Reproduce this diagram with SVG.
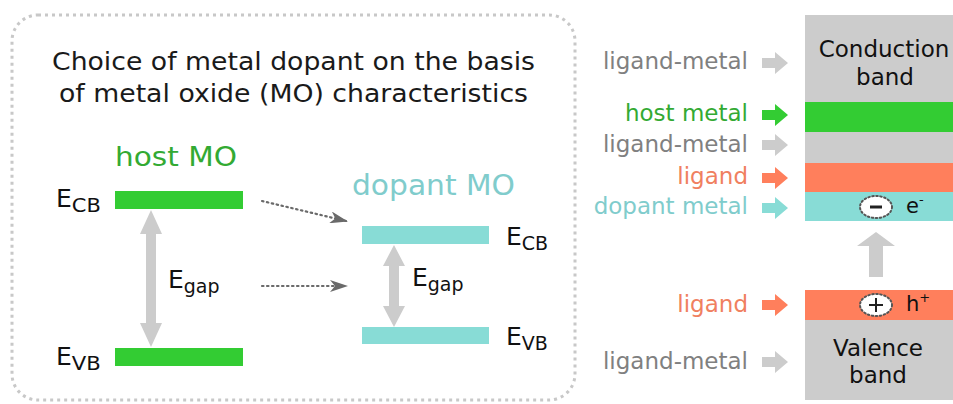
<svg xmlns="http://www.w3.org/2000/svg" width="953" height="404" viewBox="0 0 953 404">
<defs>
<marker id="dh" markerWidth="18" markerHeight="12" refX="16" refY="6" orient="auto" markerUnits="userSpaceOnUse"><path d="M0,0 L18,6 L0,12 L5,6 z" fill="#6a6a6a"/></marker>
</defs>
<style>
text{font-family:"DejaVu Sans","Liberation Sans",sans-serif;}
.t{font-size:25.5px;fill:#1a1a1a}
.lab{font-size:25px;fill:#111}
.sub{font-size:19px}
.r{font-size:23px;text-anchor:end}
.c{font-size:23px;fill:#111;text-anchor:middle}
.gray{fill:#cccccc}
.green{fill:#33cc33}
.cyan{fill:#88dcd6}
.salmon{fill:#ff7f5c}
.dot{fill:none;stroke:#6a6a6a;stroke-width:2.2;stroke-dasharray:1.5 3.5;stroke-linecap:round}
.hole{fill:#fff;stroke:#555;stroke-width:2;stroke-dasharray:1.5 2.5;stroke-linecap:round}
</style>
<rect x="12" y="15" width="563" height="385" rx="26" fill="none" stroke="#c8c8c8" stroke-width="3" stroke-dasharray="3 4"/>
<g id="title">
<text class="t" x="52" y="70" textLength="483" lengthAdjust="spacingAndGlyphs">Choice of metal dopant on the basis</text>
<text class="t" x="59" y="102" textLength="469" lengthAdjust="spacingAndGlyphs">of metal oxide (MO) characteristics</text>
</g>
<g id="host-mo">
<text x="115" y="166" font-size="27" fill="#33aa33" textLength="122" lengthAdjust="spacingAndGlyphs">host MO</text>
<rect class="green" x="115" y="191" width="128" height="18"/>
<rect class="green" x="115" y="348" width="128" height="18"/>
<text class="lab" x="56" y="207">E<tspan class="sub" dy="5" textLength="29" lengthAdjust="spacingAndGlyphs">CB</tspan></text>
<text class="lab" x="56" y="365">E<tspan class="sub" dy="5" textLength="29" lengthAdjust="spacingAndGlyphs">VB</tspan></text>
<polygon class="gray" points="151,210 162,234 156,234 156,323 162,323 151,347 140,323 146,323 146,234 140,234"/>
<text class="lab" x="168" y="288">E<tspan class="sub" dy="5">gap</tspan></text>
</g>
<g id="dopant-mo">
<text x="352" y="195" font-size="28" fill="#80cccc" textLength="163" lengthAdjust="spacingAndGlyphs">dopant MO</text>
<rect class="cyan" x="362" y="226" width="127" height="18"/>
<rect class="cyan" x="362" y="327" width="127" height="17"/>
<text class="lab" x="506" y="245">E<tspan class="sub" dy="5">CB</tspan></text>
<text class="lab" x="506" y="345">E<tspan class="sub" dy="5">VB</tspan></text>
<polygon class="gray" points="394,245 405,266 399,266 399,306 405,306 394,327 383,306 389,306 389,266 383,266"/>
<text class="lab" x="412" y="286">E<tspan class="sub" dy="5">gap</tspan></text>
</g>
<g id="connectors">
<line class="dot" x1="262" y1="201" x2="346" y2="221" marker-end="url(#dh)"/>
<line class="dot" x1="262" y1="286" x2="346" y2="286" marker-end="url(#dh)"/>
</g>
<g id="band-column">
<rect class="gray" x="805" y="15" width="148" height="385"/>
<rect class="green" x="805" y="102" width="148" height="30"/>
<rect class="salmon" x="805" y="163" width="148" height="29"/>
<rect class="cyan" x="805" y="192" width="148" height="29"/>
<rect fill="#fff" x="805" y="221" width="148" height="69"/>
<rect class="salmon" x="805" y="290" width="148" height="30"/>
<text class="c" x="884" y="57">Conduction</text>
<text class="c" x="885" y="85">band</text>
<text class="c" x="878" y="356">Valence</text>
<text class="c" x="878" y="383">band</text>
<polygon class="gray" points="876,232 895,246 883,246 883,277 869,277 869,246 857,246"/>
</g>
<g id="electron">
<ellipse class="hole" cx="876" cy="207" rx="16" ry="11"/>
<line x1="870" y1="207" x2="882" y2="207" stroke="#222" stroke-width="3"/>
<text x="906" y="213" font-size="21" fill="#111">e<tspan font-size="13" dy="-9">-</tspan></text>
</g>
<g id="hole">
<ellipse class="hole" cx="876" cy="305" rx="16" ry="11"/>
<line x1="869" y1="305" x2="883" y2="305" stroke="#222" stroke-width="2"/>
<line x1="876" y1="298" x2="876" y2="312" stroke="#222" stroke-width="2"/>
<text x="906" y="311" font-size="21" fill="#111">h<tspan font-size="13" dy="-9">+</tspan></text>
</g>
<g id="labels">
<g id="lbl1"><text class="r" x="748" y="69" fill="#808080">ligand-metal</text><path class="gray" d="M762,58 h13 v-6 l13,11 l-13,11 v-6 h-13z"/></g>
<g id="lbl2"><text class="r" x="748" y="121" fill="#33aa33">host metal</text><path class="green" d="M762,110 h13 v-6 l13,11 l-13,11 v-6 h-13z"/></g>
<g id="lbl3"><text class="r" x="748" y="152" fill="#808080">ligand-metal</text><path class="gray" d="M762,140 h13 v-6 l13,11 l-13,11 v-6 h-13z"/></g>
<g id="lbl4"><text class="r" x="748" y="184" fill="#f0805f">ligand</text><path class="salmon" d="M762,173 h13 v-6 l13,11 l-13,11 v-6 h-13z"/></g>
<g id="lbl5"><text class="r" x="748" y="214" fill="#80cccc">dopant metal</text><path class="cyan" d="M762,203 h13 v-6 l13,11 l-13,11 v-6 h-13z"/></g>
<g id="lbl6"><text class="r" x="748" y="312" fill="#f0805f">ligand</text><path class="salmon" d="M762,300 h13 v-6 l13,11 l-13,11 v-6 h-13z"/></g>
<g id="lbl7"><text class="r" x="748" y="369" fill="#808080">ligand-metal</text><path class="gray" d="M762,357 h13 v-6 l13,11 l-13,11 v-6 h-13z"/></g>
</g>
</svg>
